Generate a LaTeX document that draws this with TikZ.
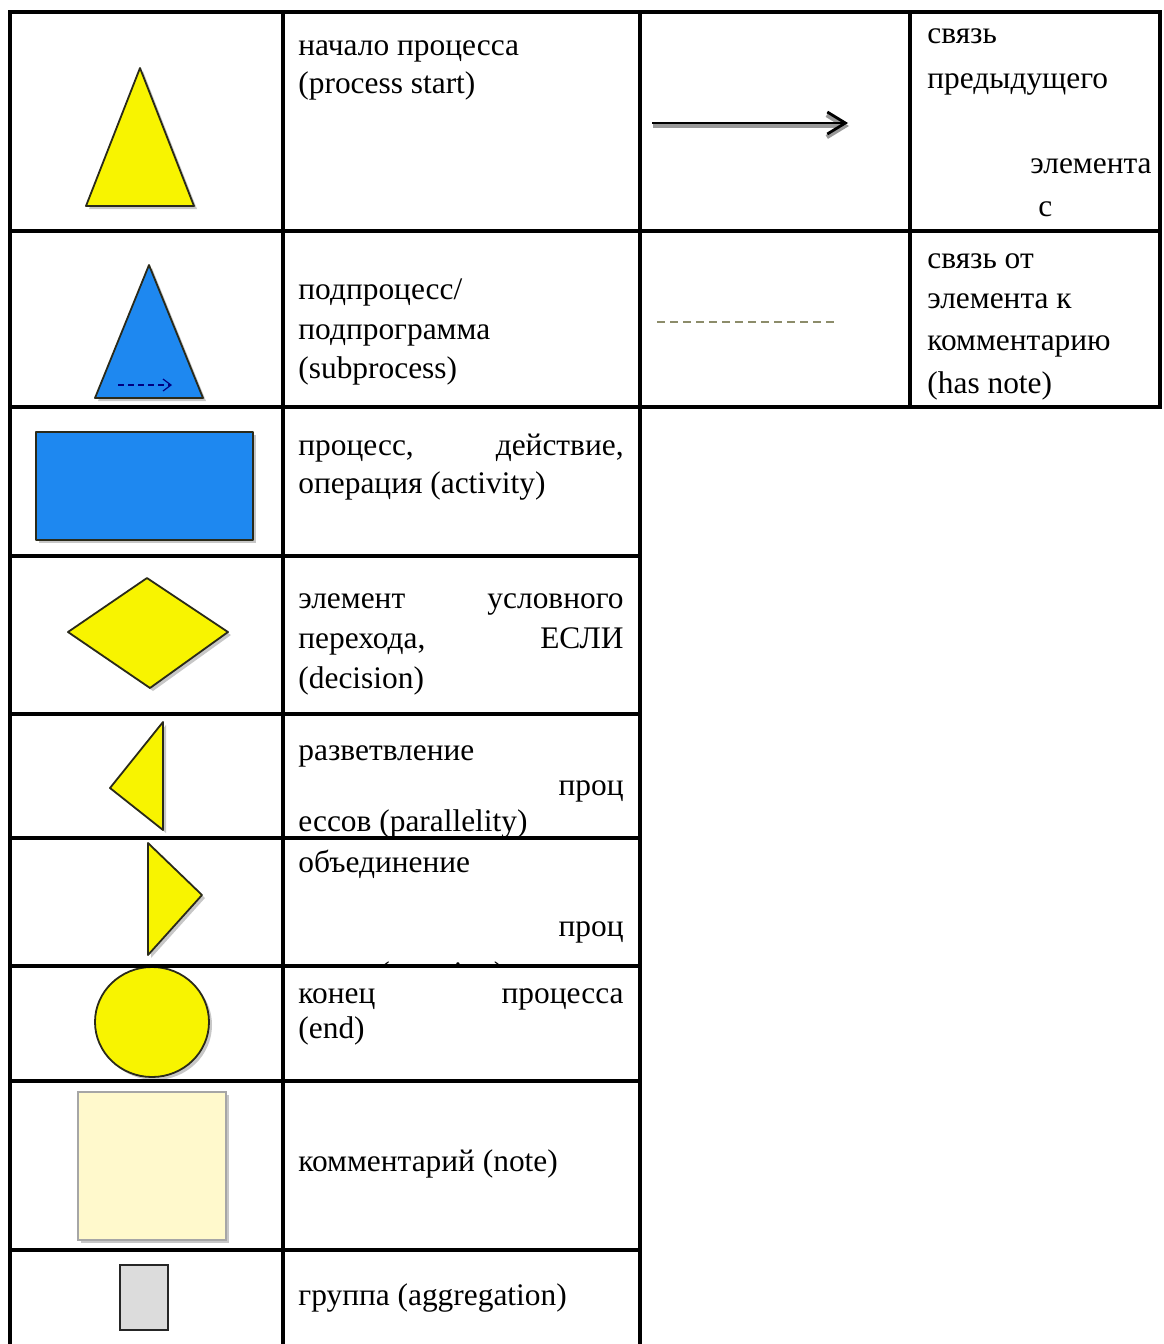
\documentclass[tikz,border=0pt]{standalone}
\usepackage{fontspec}
\setmainfont{Liberation Serif}
\usetikzlibrary{arrows.meta,calc}
\definecolor{yel}{HTML}{F8F400}
\definecolor{blu}{HTML}{1E88F0}
\definecolor{notec}{HTML}{FFF9CC}
\definecolor{grayc}{HTML}{DCDCDC}
\definecolor{edge}{HTML}{2A2A1A}
\definecolor{dashc}{HTML}{8C8C6A}
\newcommand{\tfont}{\fontsize{15.7pt}{19pt}\selectfont}
\tikzset{
  grid/.style={line width=1.6pt, line cap=rect},
  txt/.style={anchor=base west, inner sep=0pt, font=\tfont},
  txtr/.style={anchor=base east, inner sep=0pt, font=\tfont},
  shp/.style={draw=edge, line width=0.9pt, line join=round},
  shad/.style={fill=black, opacity=0.22},
}
\begin{document}
\begin{tikzpicture}[x=0.5pt,y=-0.5pt]
\useasboundingbox (0,0) rectangle (1163,1344);
\fill[white] (0,0) rectangle (1163,1344);

% ---------- shapes ----------
% row 1: process start
\fill[shad] (143,71) -- (197,209) -- (89,209) -- cycle;
\draw[shp, fill=yel] (140,68) -- (194,206) -- (86,206) -- cycle;
% row 2: subprocess
\fill[shad] (152,268) -- (206,401) -- (98,401) -- cycle;
\draw[shp, fill=blu] (149,265) -- (203,398) -- (95,398) -- cycle;
\coordinate (sa) at (118,385);
\coordinate (sb) at (172,385);
\draw[draw=blue!50!black, line width=0.6pt, dash pattern=on 3pt off 2pt, -{Straight Barb[length=4pt,width=6pt]}] (sa) -- (sb);
% row 3: activity
\fill[shad] (39,435) rectangle (256,543);
\draw[shp, fill=blu] (36,432) rectangle (253,540);
% row 4: decision
\fill[shad] (71,635) -- (150,581) -- (231,635) -- (153,691) -- cycle;
\draw[shp, fill=yel] (68,632) -- (147,578) -- (228,632) -- (150,688) -- cycle;
% row 5: parallelity
\fill[shad] (166,725) -- (166,833) -- (113,791) -- cycle;
\draw[shp, fill=yel] (163,722) -- (163,830) -- (110,788) -- cycle;
% row 6: merging
\fill[shad] (151,846) -- (205,898) -- (151,958) -- cycle;
\draw[shp, fill=yel] (148,843) -- (202,895) -- (148,955) -- cycle;
% row 7: end
\fill[shad] (155,1025) ellipse [x radius=57, y radius=55];
\draw[shp, fill=yel] (152,1022) ellipse [x radius=57, y radius=55];
% row 8: note
\fill[shad] (81,1095) rectangle (229,1243);
\draw[draw=gray!70, line width=0.6pt, fill=notec] (78,1092) rectangle (226,1240);
% row 9: aggregation
\draw[draw=black!85, line width=0.9pt, fill=grayc] (120,1265) rectangle (168,1330);

% right table connectors
\coordinate (a1) at (652,123);
\coordinate (a2) at (848,123);
\draw[black!40, line width=2.2pt, -{Straight Barb[length=9pt,width=11pt]}] ($(a1)+(1,3)$) -- ($(a2)+(1,3)$);
\draw[black, line width=1.4pt, -{Straight Barb[length=9pt,width=11pt]}] (a1) -- (a2);
\coordinate (d1) at (657,322);
\coordinate (d2) at (838,322);
\draw[dashc, line width=1.3pt, dash pattern=on 4pt off 2.5pt] (d1) -- (d2);

% ---------- texts ----------
\node[txt] (t1a) at (298,55) {начало процесса};
\node[txt] (t1b) at (298,93) {(process start)};
\node[txt] (t2a) at (298,299) {подпроцесс/};
\node[txt] (t2b) at (298,339) {подпрограмма};
\node[txt] (t2c) at (298,378) {(subprocess)};
\node[txt] (t3a) at (298,455) {процесс,};
\node[txtr] (t3b) at (624,455) {действие,};
\node[txt] (t3c) at (298,493) {операция (activity)};
\node[txt] (t4a) at (298,608) {элемент};
\node[txtr] (t4b) at (624,608) {условного};
\node[txt] (t4c) at (298,648) {перехода,};
\node[txtr] (t4d) at (624,648) {ЕСЛИ};
\node[txt] (t4e) at (298,688) {(decision)};
\node[txt] (t5a) at (298,760) {разветвление};
\node[txtr] (t5b) at (624,795) {проц};
\begin{scope}
\clip (283,714) rectangle (640,838);
\node[txt] (t5c) at (298,831) {ессов (parallelity)};
\end{scope}
\node[txt] (t6a) at (298,872) {объединение};
\node[txtr] (t6b) at (624,936) {проц};
\begin{scope}
\clip (283,838) rectangle (640,966);
\node[txt] (t6c) at (298,983) {ессов (merging)};
\end{scope}
\node[txt] (t7a) at (298,1003) {конец};
\node[txtr] (t7b) at (624,1003) {процесса};
\node[txt] (t7c) at (298,1038) {(end)};
\node[txt] (t8a) at (298,1171) {комментарий (note)};
\node[txt] (t9a) at (298,1305) {группа (aggregation)};

\node[txt] (r1a) at (927,43) {связь};
\node[txt] (r1b) at (927,88) {предыдущего};
\node[txtr] (r1c) at (1152,173) {элемента};
\node[txt] (r1d) at (1038,216) {с};
\node[txt] (r2a) at (927,268) {связь от};
\node[txt] (r2b) at (927,308) {элемента к};
\node[txt] (r2c) at (927,350) {комментарию};
\node[txt] (r2d) at (927,393) {(has note)};

% ---------- grid ----------
\foreach \yy in {12,231,407}{\draw[grid] (10,\yy) -- (1160,\yy);}
\foreach \yy in {556,714,838,966,1081,1250}{\draw[grid] (10,\yy) -- (640,\yy);}
\foreach \xx in {10,283,640}{\draw[grid] (\xx,12) -- (\xx,1346);}
\foreach \xx in {910,1160}{\draw[grid] (\xx,12) -- (\xx,407);}
\end{tikzpicture}
\end{document}
